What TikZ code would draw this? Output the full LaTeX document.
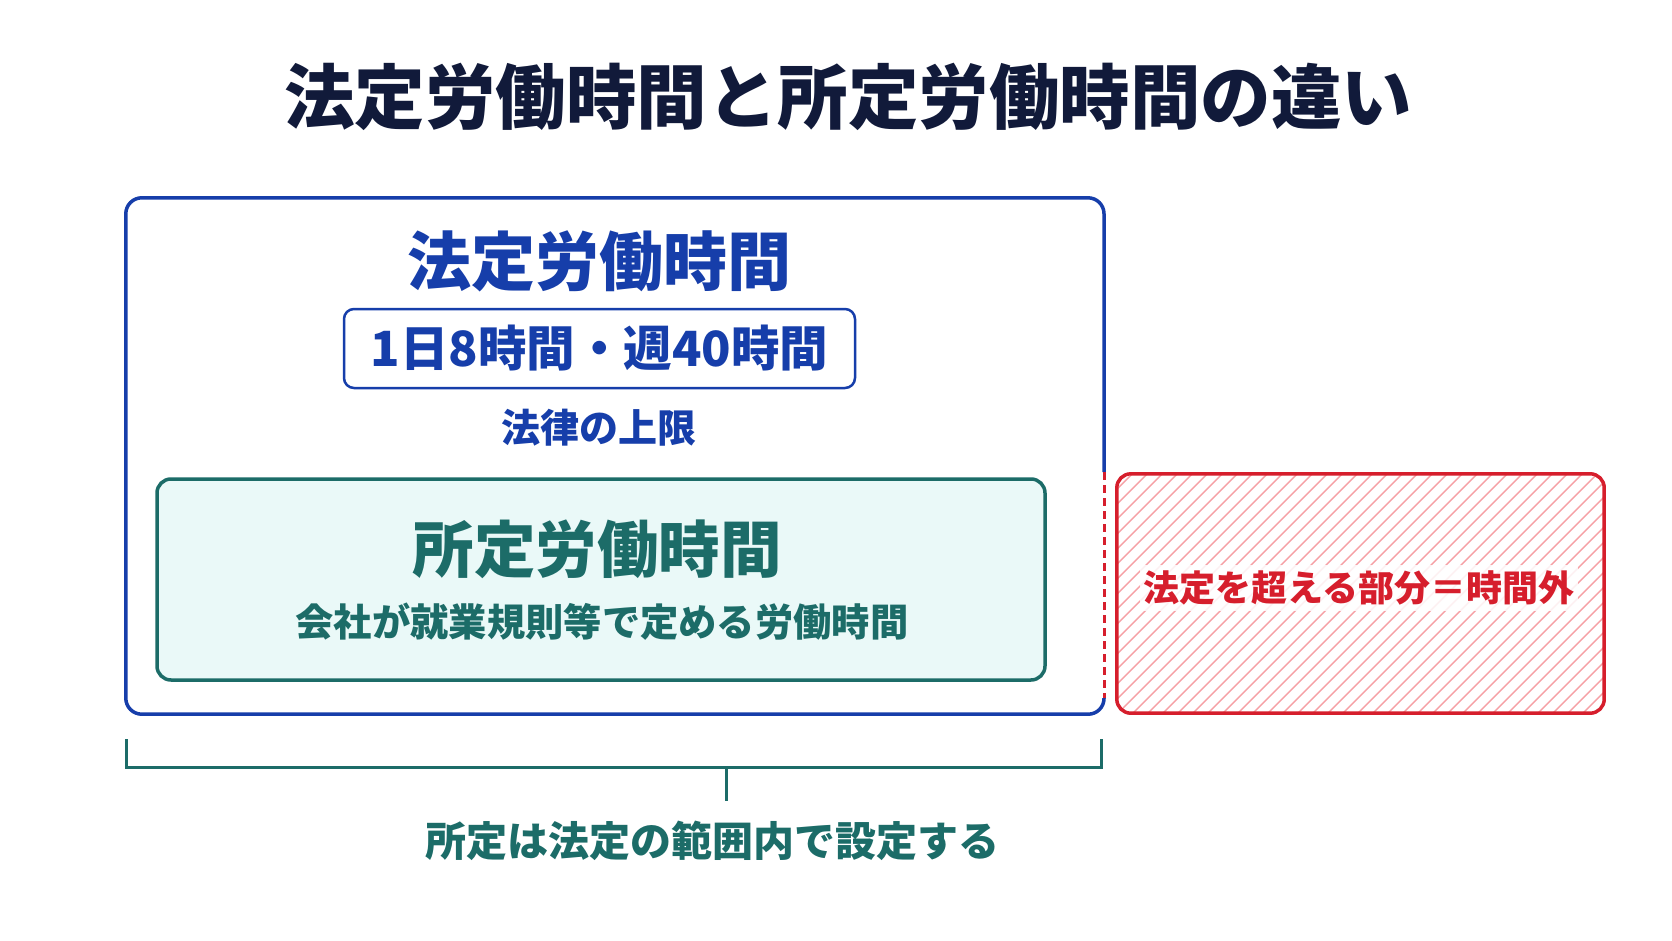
\documentclass[tikz,border=0pt]{standalone}
\usepackage{fontspec}
\setmainfont{Noto Sans CJK JP}
\newfontfamily\heavyfont{Noto Sans CJK JP Black}
\usepackage{tikz}
\usetikzlibrary{positioning,calc}
\usepackage{xcolor}
\definecolor{Navy}   {RGB}{17, 26, 58}
\definecolor{BlueM}  {RGB}{22, 62, 170}
\definecolor{TealD}  {RGB}{28, 108, 104}
\definecolor{TealL}  {RGB}{234,249,248}
\definecolor{RedM}   {RGB}{214, 30, 44}
\definecolor{RedL}   {RGB}{246,160,165}

\tikzset{
  txt/.style={font=\bfseries\fontsize{#1}{#1}\selectfont,inner sep=0pt},
  frame/.style={inner sep=0pt,minimum width=#1},
}

\begin{document}
\begin{tikzpicture}[x=1pt,y=-1pt]
        \fill[white] (0,0) rectangle (1672,941);
        \useasboundingbox (0,0) rectangle (1672,941);
        % title
        \node[inner sep=0pt,font=\heavyfont\fontsize{70.5}{70.5}\selectfont,text=Navy] (title) at (848,97) {法定労働時間と所定労働時間の違い};
        % legal working hours box
        \node[frame=978,minimum height=516] (legal) at (615,456) {};
        \coordinate (dtop) at (1104,472);
        \coordinate (dbot) at (1104,698);
        \draw[BlueM,line width=3.5,rounded corners=16]
          (dtop) |- (legal.north west) |- (legal.south east) -- (dbot);
        \draw[RedM,line width=3,dash pattern=on 8 off 5] (dtop) -- (dbot);
        \node[txt=64,text=BlueM] (legalhd) at (599,261) {法定労働時間};
        \node[frame=511,minimum height=79,draw=BlueM,line width=2.5,rounded corners=10] (limit) at (599.5,348.5) {};
        \node[txt=48.5,text=BlueM] (limittx) at (limit) {1日8時間・週40時間};
        \node[txt=39,text=BlueM] (lawcap) at (599,428) {法律の上限};
        % prescribed working hours box
        \node[frame=888,minimum height=201,draw=TealD,fill=TealL,line width=3.5,rounded corners=14] (prescr) at (601,579.5) {};
        \node[txt=61.5,text=TealD] (prescrhd) at (597,549) {所定労働時間};
        \node[txt=38.3,text=TealD] (prescrtx) at (602,622) {会社が就業規則等で定める労働時間};
        % overtime part
        \node[frame=487,minimum height=239] (over) at (1360.5,593.5) {};
        \begin{scope}
          \clip[rounded corners=14] (over.south west) rectangle (over.north east);
          \foreach \x in {0,15,...,750}{
            \draw[RedL,line width=1.4] (1117-240+\x,714) -- (1117+\x,474);
          }
        \end{scope}
        \draw[RedM,line width=3.5,rounded corners=14] (over.south west) rectangle (over.north east);
        \node[txt=36,text=RedM,fill=white,fill opacity=0.85,text opacity=1,inner xsep=4,inner ysep=6] (overtx) at (1359,588) {法定を超える部分＝時間外};
        % range bracket
        \coordinate (bl) at (126,739);
        \coordinate (br) at (1101,739);
        \coordinate (bmid) at (726,767);
        \draw[TealD,line width=3] (bl) |- (bmid) -| (br);
        \draw[TealD,line width=3] (bmid) -- ++(0,34) coordinate (bstem);
        \node[txt=41,text=TealD] (rangetx) at (712,841) {所定は法定の範囲内で設定する};
      \end{tikzpicture}
\end{document}
